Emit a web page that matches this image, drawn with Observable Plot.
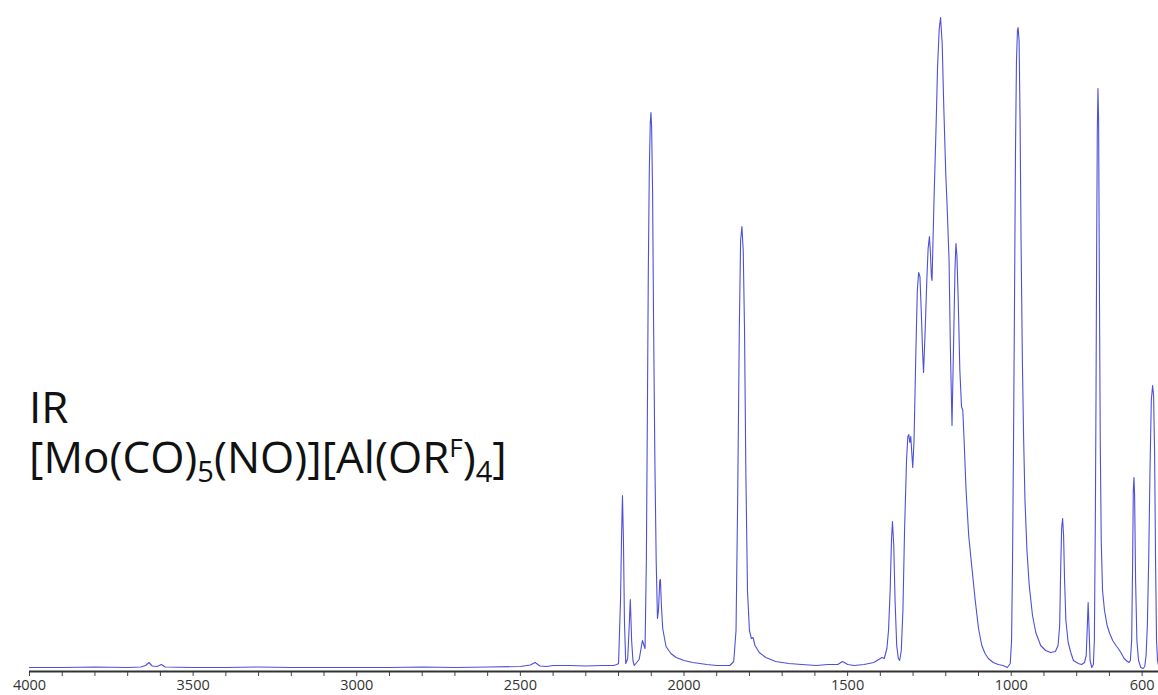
<!DOCTYPE html>
<html>
<head>
<meta charset="utf-8">
<script src="https://cdn.jsdelivr.net/npm/d3@7"></script>
<script src="https://cdn.jsdelivr.net/npm/@observablehq/plot@0.6"></script>
<style>
  html, body { margin: 0; padding: 0; background: #fff; }
  #chart { width: 1158px; height: 695px; overflow: hidden; }
</style>
</head>
<body>
<div id="chart"></div>
<script>
// Wavenumbers (cm^-1)
const wn = [
  4000, 3900, 3800, 3700, 3660, 3645, 3635, 3625, 3610, 3597, 3585, 3500, 3400, 3300, 3200, 3100, 3000,
  2900, 2800, 2700, 2600, 2500, 2470, 2455, 2440, 2420, 2400, 2350, 2300, 2250, 2215, 2205,
  2200, 2194, 2191, 2188, 2185, 2182, 2178, 2172, 2168, 2164, 2160, 2156, 2152, 2137, 2127, 2119,
  2115, 2112, 2109, 2106, 2103, 2101, 2099, 2096, 2093, 2089, 2085, 2081, 2078, 2074, 2072, 2069,
  2065, 2055, 2040, 2024, 2000, 1973, 1930, 1900, 1860, 1848, 1841, 1836, 1831, 1827, 1823, 1819,
  1815, 1811, 1806, 1800, 1794, 1789, 1783, 1770, 1750, 1720, 1680, 1640, 1596, 1560, 1530, 1516,
  1510, 1500, 1480, 1450, 1420, 1405, 1395, 1388, 1380, 1375, 1370, 1366, 1363, 1359, 1355, 1350,
  1345, 1341, 1336, 1331, 1326, 1320, 1316, 1313, 1310, 1307, 1304, 1301, 1297, 1292, 1287, 1283,
  1279, 1275, 1271, 1268, 1263, 1258, 1254, 1250, 1247, 1244, 1242, 1236, 1230, 1225, 1220, 1216,
  1211, 1206, 1200, 1196, 1190, 1186, 1181, 1176, 1172, 1169, 1166, 1162, 1157, 1152, 1148, 1144,
  1138, 1130, 1120, 1110, 1100, 1090, 1080, 1070, 1055, 1040, 1025, 1012, 1003, 999, 996, 993,
  990, 987, 984, 981, 979, 976, 973, 970, 966, 962, 958, 952, 945, 935, 925, 910,
  895, 880, 865, 857, 852, 849, 846, 843, 840, 837, 833, 826, 818, 810, 795, 785,
  776, 771, 768, 765, 762, 759, 754, 749, 746, 743, 741, 739, 737, 735, 733, 731,
  728, 725, 721, 715, 707, 699, 690, 680, 673, 665, 655, 645, 640, 636, 632, 629,
  627, 625, 623, 620, 616, 611, 604, 597, 592, 588, 584, 580, 576, 572, 568, 565,
  562, 559, 556, 553, 550
];
// Absorbance (arbitrary units)
const absorb = [
  4, 4, 4.5, 4, 4.5, 6, 9, 5.5, 5, 7, 4.5, 4, 4, 4.5, 4, 4, 4,
  4, 4.5, 4, 4.5, 5, 6.5, 9, 5.5, 5, 6, 6, 5.5, 6, 6, 7,
  8, 71, 131, 176, 131, 51, 8, 13, 41, 72, 31, 11, 6, 12, 31, 23,
  111, 251, 401, 501, 549, 559, 546, 481, 351, 211, 111, 53, 61, 91, 92, 66,
  43, 25, 18, 14, 11, 9, 7, 6, 6, 10, 41, 171, 341, 431, 445, 421,
  341, 201, 81, 41, 33, 34, 26, 19, 14, 10, 8, 7, 6, 7, 7, 10,
  9, 7, 6, 7, 9, 12, 14, 13, 23, 41, 81, 131, 150, 126, 71, 26,
  13, 11, 21, 61, 141, 211, 235, 237, 229, 235, 219, 204, 231, 311, 381, 399,
  395, 361, 321, 299, 341, 391, 423, 435, 419, 395, 391, 471, 541, 606, 643, 654,
  628, 563, 497, 466, 411, 324, 246, 331, 401, 428, 416, 371, 301, 265, 261, 231,
  181, 136, 103, 71, 43, 26, 18, 13, 9, 7, 6, 4, 8, 31, 111, 231,
  371, 521, 611, 641, 644, 631, 551, 431, 311, 231, 171, 121, 86, 56, 39, 26,
  21, 19, 20, 26, 46, 101, 143, 153, 136, 91, 51, 29, 19, 11, 8, 7,
  9, 16, 41, 69, 41, 11, 4, 7, 31, 151, 271, 421, 541, 583, 551, 411,
  231, 131, 81, 61, 46, 38, 31, 26, 23, 19, 13, 10, 9, 11, 31, 111,
  181, 194, 176, 91, 31, 11, 4, 3, 5, 16, 46, 111, 201, 271, 286, 276,
  221, 111, 31, 11, 6
];
// Axis ticks
const minorTicks = d3.range(600, 4001, 100);
const labelTicks = [4000, 3500, 3000, 2500, 2000, 1500, 1000, 600];

const data = wn.map((w, i) => ({w, a: absorb[i]}));

const chart = Plot.plot({
  width: 1158,
  height: 695,
  marginLeft: 29,
  marginRight: 0,
  marginTop: 17,
  marginBottom: 24,
  x: {domain: [4000, 550], label: null},
  y: {domain: [0, 654], axis: null, label: null},
  style: {fontFamily: "'Open Sans', sans-serif", fontSize: "14.5px", color: "#333", background: "#fff"},
  marks: [
    Plot.axisX({ticks: minorTicks, tickSize: 5, tickFormat: () => "", label: null, stroke: "#444"}),
    Plot.axisX({ticks: labelTicks, tickSize: 0, tickPadding: 8, tickFormat: d => String(d), label: null, fill: "#333"}),
    Plot.ruleY([0], {stroke: "#333", strokeWidth: 2}),
    Plot.line(data, {x: "w", y: "a", stroke: "#4f4fda", strokeWidth: 1.1})
  ]
});

document.getElementById("chart").appendChild(chart);

// Annotation text
const svg = d3.select(chart);
const g = svg.append("g")
  .attr("font-family", "'Open Sans', sans-serif")
  .attr("font-size", 44)
  .attr("text-anchor", "start")
  .attr("fill", "#111");
g.append("text").attr("x", 29).attr("y", 423).text("IR");
const t2 = g.append("text").attr("x", 29).attr("y", 473);
t2.append("tspan").text("[Mo(CO)");
t2.append("tspan").attr("font-size", 29).attr("dy", 9).text("5");
t2.append("tspan").attr("dy", -9).text("(NO)][Al(OR");
t2.append("tspan").attr("font-size", 26).attr("dy", -16).text("F");
t2.append("tspan").attr("dy", 16).text(")");
t2.append("tspan").attr("font-size", 29).attr("dy", 9).text("4");
t2.append("tspan").attr("dy", -9).text("]");
</script>
</body>
</html>
